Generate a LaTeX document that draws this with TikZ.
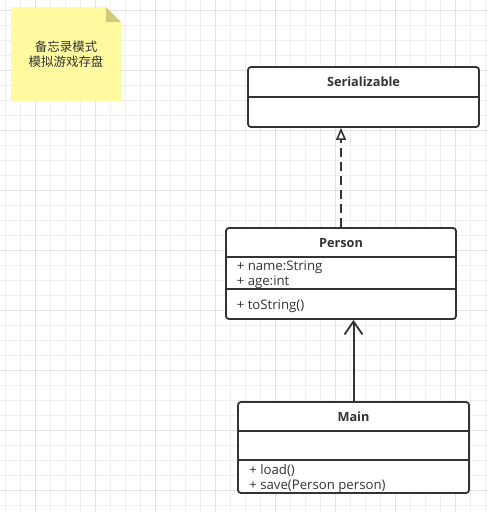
\documentclass[tikz,border=0pt]{standalone}
\usepackage{fontspec}
\setmainfont{Open Sans}
\newfontfamily\cjk{Noto Sans CJK SC}
\usepackage{tikz}
\usetikzlibrary{arrows.meta, calc, positioning}
\definecolor{ln}{HTML}{333333}
\definecolor{gminor}{HTML}{EFEFEF}
\definecolor{gmajor}{HTML}{E2E2E2}
\definecolor{notefill}{HTML}{FFFA9F}
\definecolor{notefold}{HTML}{CFCB78}

\tikzset{
  classbox/.style={draw=ln, line width=1.8pt, fill=white, rounded corners=3pt, inner sep=0pt},
  ctitle/.style={font=\fontsize{12.7}{14}\selectfont\bfseries, text=ln},
  member/.style={font=\fontsize{13.2}{15}\selectfont, text=ln, anchor=west, inner sep=0pt},
  divider/.style={draw=ln, line width=1.8pt}
}

\begin{document}
\begin{tikzpicture}[x=1pt, y=-1pt]
\useasboundingbox (0,0) rectangle (488,512);
\fill[white] (0,0) rectangle (488,512);
\foreach \x in {5,20,...,485}{
\draw[gminor, line width=1pt] (\x,0) -- (\x,512);
}
\foreach \y in {10,25,...,505}{
\draw[gminor, line width=1pt] (0,\y) -- (488,\y);
}
\foreach \x in {35,95,...,455}{
\draw[gmajor, line width=1pt] (\x,0) -- (\x,512);
}
\foreach \y in {10,70,...,490}{
\draw[gmajor, line width=1pt] (0,\y) -- (488,\y);
}
% note
\fill[notefill] (11,7) -- (106,7) -- (121,22) -- (121,101) -- (11,101) -- cycle;
\fill[notefold] (106,7) -- (121,22) -- (106,22) -- cycle;
\node[align=center, text=ln, font=\cjk\fontsize{12.5}{15}\selectfont] (memo) at (66,54.5) {备忘录模式\\模拟游戏存盘};
% classes
\node[classbox, minimum width=231, minimum height=60] (ser) at (363.5,97) {};
\draw[divider] (ser.west) -- (ser.east);
\node[ctitle] (sername) at ($(ser.north)+(0,16)$) {Serializable};

\node[classbox, minimum width=230, minimum height=91] (person) at (341,273.5) {};
\draw[divider] ($(person.north west)+(0,30)$) -- ($(person.north east)+(0,30)$);
\draw[divider] ($(person.north west)+(0,62)$) -- ($(person.north east)+(0,62)$);
\node[ctitle] (personname) at ($(person.north)+(0,16)$) {Person};
\node[member] (pname) at ($(person.north west)+(11.5,40)$) {+ name:String};
\node[member] (page) at ($(person.north west)+(11.5,55.5)$) {+ age:int};
\node[member] (ptostr) at ($(person.north west)+(11.5,79)$) {+ toString()};

\node[classbox, minimum width=231, minimum height=91] (main) at (353.5,447.5) {};
\draw[divider] ($(main.north west)+(0,30)$) -- ($(main.north east)+(0,30)$);
\draw[divider] ($(main.north west)+(0,59)$) -- ($(main.north east)+(0,59)$);
\node[ctitle] (mainname) at ($(main.north)+(0,16)$) {Main};
\node[member] (mload) at ($(main.north west)+(12,69)$) {+ load()};
\node[member] (msave) at ($(main.north west)+(12,85.5)$) {+ save(Person person)};
% relations
\draw[ln, line width=2pt, dash pattern=on 9pt off 5pt, -{Triangle[open, length=12pt, width=10pt, line width=1.6pt]}] (person.north) -- (person.north |- ser.south);
\draw[ln, line width=2pt, -{Straight Barb[length=13pt, width=18pt, line width=1.8pt]}] (main.north) -- (main.north |- person.south);
\end{tikzpicture}
\end{document}
